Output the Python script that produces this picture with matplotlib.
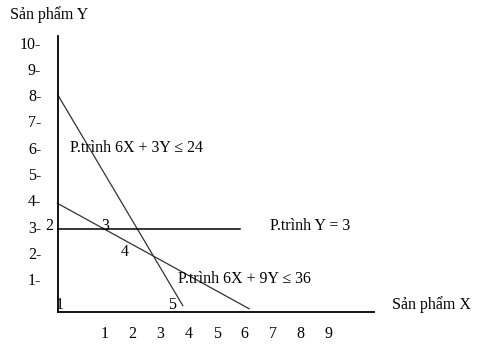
import matplotlib.pyplot as plt

plt.rcParams['font.family'] = ['Liberation Serif', 'DejaVu Serif']

# do thi ve tay: toa do doc theo nhan tren truc
x_ticks = [1, 2, 3, 4, 5, 6, 7, 8, 9]
y_ticks = [1, 2, 3, 4, 5, 6, 7, 8, 9, 10]
y_tick_labels = [f"{v}-" for v in y_ticks]

# duong 6X + 3Y <= 24
line1_x = [-0.67, 3.79]
line1_y = [8.0, 0.0]
# duong 6X + 9Y <= 36
line2_x = [-0.69, 6.16]
line2_y = [3.89, -0.12]
# duong Y = 3
line3_x = [-0.67, 5.83]
line3_y = [2.91, 2.91]

# cac diem danh so
pt_labels = ["1", "2", "3", "4", "5"]
pt_x = [-0.62, -0.98, 1.01, 1.73, 3.39]
pt_y = [0.02, 3.02, 3.02, 2.05, 0.02]

fig = plt.figure(figsize=(4.81, 3.46), dpi=100)
W, H = 481, 346
ax = fig.add_axes([58 / W, 1 - 312.3 / H, (374 - 58) / W, (312.3 - 36) / H])
ax.set_xlim(-0.668, 10.62)
ax.set_ylim(-0.255, 10.25)

for s in ['top', 'right']:
    ax.spines[s].set_visible(False)
for s in ['left', 'bottom']:
    ax.spines[s].set_linewidth(1.3)
    ax.spines[s].set_color('black')

fs = 11.5
ax.set_xticks(x_ticks)
ax.set_xticklabels([str(v) for v in x_ticks], fontsize=fs)
ax.set_yticks(y_ticks)
ax.set_yticklabels(y_tick_labels, fontsize=fs)
ax.tick_params(axis='x', length=0, pad=10)
ax.tick_params(axis='y', length=0, pad=12)

lc = '#333333'
ax.plot(line1_x, line1_y, color=lc, lw=0.9, clip_on=False)
ax.plot(line2_x, line2_y, color=lc, lw=0.9, clip_on=False)
ax.plot(line3_x, line3_y, color='black', lw=1.1, clip_on=False)

for t, x, y in zip(pt_labels, pt_x, pt_y):
    ax.text(x, y, t, fontsize=fs, ha='center', va='center', clip_on=False)

ax.text(-0.24, 5.99, "P.trình 6X + 3Y ≤ 24", fontsize=fs, ha='left', va='center')
ax.text(6.90, 3.04, "P.trình Y = 3", fontsize=fs, ha='left', va='center')
ax.text(3.63, 1.01, "P.trình 6X + 9Y ≤ 36", fontsize=fs, ha='left', va='center')

fig.text(10 / W, 1 - 15 / H, "Sản phẩm Y", fontsize=fs, ha='left', va='center')
fig.text(392 / W, 1 - 305 / H, "Sản phẩm X", fontsize=fs, ha='left', va='center')

fig.savefig('out.png', dpi=100)
